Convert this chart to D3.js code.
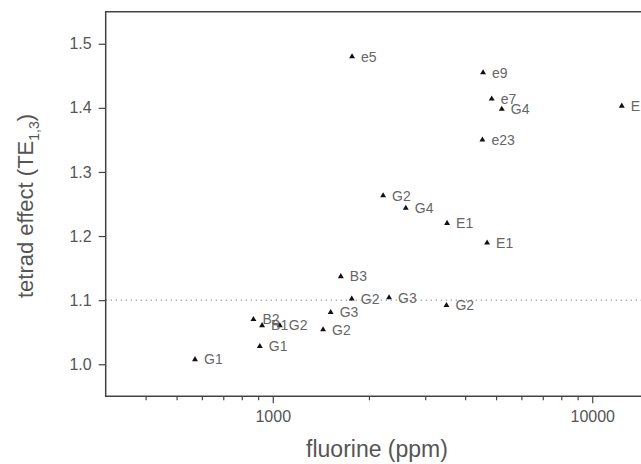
<!DOCTYPE html>
<meta charset="utf-8">
<style>
  html, body { margin: 0; padding: 0; background: #fff; }
  svg { display: block; font-family: "Liberation Sans", Arial, sans-serif; }
  .frame { fill: none; stroke: #444; stroke-width: 1.5px; }
  .axis path { stroke: #444; stroke-width: 1.5px; }
  .axis line { stroke: #444; stroke-width: 1.2px; }
  .axis text { fill: #555; font-size: 16px; }
  .lbl { fill: #666; font-size: 14px; }
  .title { fill: #555; font-size: 22px; }
</style>
<svg id="chart" width="641" height="464"></svg>
<script src="https://cdn.jsdelivr.net/npm/d3@7"></script>
<script>

  // samples: fluorine (ppm), tetrad effect, label
  let names = ["e5", "e9", "e7", "G4", "e23", "E1",
               "G2", "G4", "E1", "E1",
               "B3", "G2", "G3", "G2", "G3", "G2",
               "B2", "B1", "G2", "G1", "G1"]
  let fluorine = [1771, 4552, 4845, 5210, 4530, 12370,
                  2215, 2608, 3512, 4686,
                  1633, 1767, 2312, 3497, 1518, 1437,
                  870, 926, 1052, 911, 571]
  let tetrad = [1.480, 1.455, 1.414, 1.398, 1.350, 1.403,
                1.263, 1.2435, 1.220, 1.1895,
                1.137, 1.102, 1.104, 1.092, 1.081, 1.054,
                1.070, 1.0605, 1.0605, 1.028, 1.0075]

  let yTicks = [1.0, 1.1, 1.2, 1.3, 1.4, 1.5]
  let xMajor = [1000, 10000]
  let xMinor = [400, 500, 600, 700, 800, 900, 2000, 3000, 4000, 5000, 6000, 7000, 8000, 9000]
  let threshold = 1.1

  let svg = d3.select("#chart")

  let mLeft = 105.7, mTop = 11.7, mBottom = 396.3
  let x = d3.scaleLog()
    .domain([300, 20000])
    .range([mLeft, mLeft + 319.5 * Math.log10(20000 / 300)])
  let y = d3.scaleLinear()
    .domain([0.95, 1.55])
    .range([mBottom, mTop])

  // dotted reference line
  svg.append("line")
    .attr("x1", x(300)).attr("x2", x(20000))
    .attr("y1", y(threshold)).attr("y2", y(threshold))
    .attr("stroke", "#777")
    .attr("stroke-width", 1)
    .attr("stroke-dasharray", "1.2,3.8")

  // minor x ticks
  svg.append("g")
    .attr("class", "axis")
    .attr("transform", `translate(0,${mBottom})`)
    .call(d3.axisBottom(x).tickValues(xMinor).tickSize(4).tickFormat(""))
    .select(".domain").remove()

  svg.append("g")
    .attr("class", "axis")
    .attr("transform", `translate(0,${mBottom})`)
    .call(d3.axisBottom(x).tickValues(xMajor).tickSize(7).tickPadding(7).tickFormat(d3.format("d")))
    .select(".domain").remove()

  svg.append("g")
    .attr("class", "axis")
    .attr("transform", `translate(${mLeft},0)`)
    .call(d3.axisLeft(y).tickValues(yTicks).tickSize(7).tickPadding(7).tickFormat(d3.format(".1f")))
    .select(".domain").remove()

  // frame: left, top, bottom (right side is cut off)
  svg.append("path")
    .attr("class", "frame")
    .attr("d", `M${x(20000)},${mTop} H${mLeft} V${mBottom} H${x(20000)}`)

  // points
  let idx = d3.range(names.length)
  let tri = d3.symbol().type(d3.symbolTriangle).size(15)

  svg.append("g").selectAll("path")
    .data(idx)
    .join("path")
    .attr("d", tri)
    .attr("fill", "#111")
    .attr("transform", i => `translate(${x(fluorine[i])},${y(tetrad[i])})`)

  svg.append("g").selectAll("text")
    .data(idx)
    .join("text")
    .attr("class", "lbl")
    .attr("x", i => x(fluorine[i]) + 9)
    .attr("y", i => y(tetrad[i]) + 5)
    .text(i => names[i])

  // axis titles
  svg.append("text")
    .attr("class", "title")
    .attr("x", 377)
    .attr("y", 457)
    .attr("text-anchor", "middle")
    .style("font-size", "23px")
    .text("fluorine (ppm)")

  let yt = svg.append("text")
    .attr("class", "title")
    .attr("transform", "translate(33,206) rotate(-90)")
    .attr("text-anchor", "middle")
  yt.append("tspan").text("tetrad effect (TE")
  yt.append("tspan").attr("dy", 6).style("font-size", "14px").text("1,3")
  yt.append("tspan").attr("dy", -6).text(")")

</script>
